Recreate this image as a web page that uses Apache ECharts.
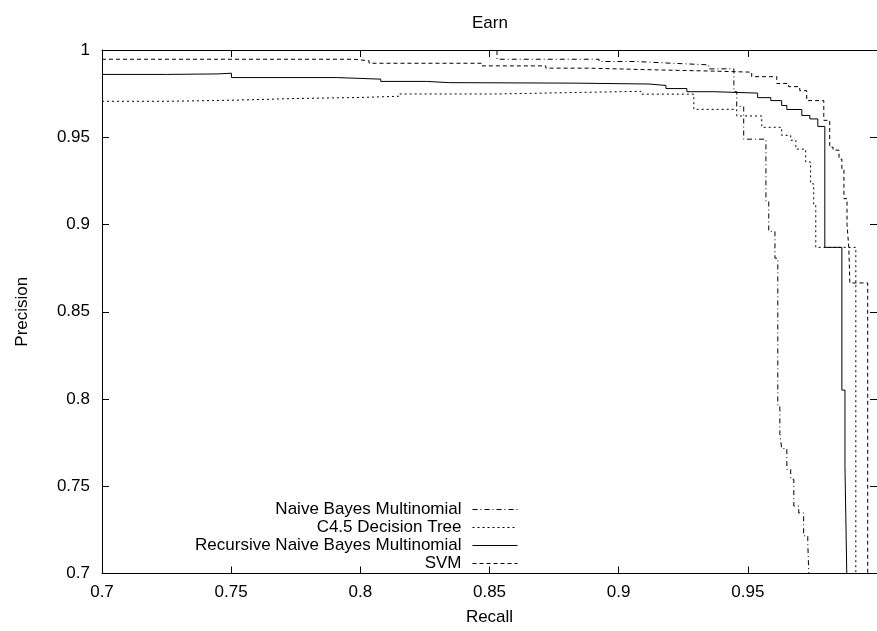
<!DOCTYPE html>
<html>
<head>
<meta charset="utf-8">
<title>Earn</title>
<script src="https://cdn.jsdelivr.net/npm/echarts@6/dist/echarts.min.js"></script>
<style>
  html, body { margin: 0; padding: 0; background: #fff; }
  #chart { width: 877px; height: 631px; }
</style>
</head>
<body>
<div id="chart"></div>
<script>
// Precision / recall curves for the "Earn" category, one [recall, precision] pair per threshold.
const seriesNames = [
  'Naive Bayes Multinomial',
  'C4.5 Decision Tree',
  'Recursive Naive Bayes Multinomial',
  'SVM'
];

const naiveBayes = [
  [0.8529, 1.0000], [0.8529, 0.9947], [0.8924, 0.9934], [0.9067, 0.9924],
  [0.9206, 0.9915], [0.9349, 0.9892], [0.9446, 0.9761], [0.9457, 0.9676],
  [0.9484, 0.9489], [0.9570, 0.9131], [0.9581, 0.8960], [0.9605, 0.8807],
  [0.9616, 0.7966], [0.9624, 0.7801], [0.9631, 0.7716], [0.9651, 0.7597],
  [0.9666, 0.7540], [0.9678, 0.7386], [0.9697, 0.7347], [0.9716, 0.7216],
  [0.9732, 0.7176], [0.9736, 0.7000]
];

const decisionTree = [
  [0.7000, 0.9706], [0.7250, 0.9712], [0.7500, 0.9722], [0.7750, 0.9728],
  [0.8000, 0.9735], [0.8150, 0.9748], [0.8530, 0.9758], [0.8885, 0.9763],
  [0.9086, 0.9747], [0.9291, 0.9660], [0.9457, 0.9622], [0.9554, 0.9557],
  [0.9631, 0.9511], [0.9666, 0.9483], [0.9686, 0.9432], [0.9724, 0.9358],
  [0.9743, 0.9233], [0.9755, 0.9108], [0.9763, 0.8869], [0.9918, 0.7000]
];

const recursiveBayes = [
  [0.7000, 0.9860], [0.7250, 0.9863], [0.7450, 0.9867], [0.7501, 0.9842],
  [0.7909, 0.9833], [0.8079, 0.9820], [0.8257, 0.9813], [0.8342, 0.9810],
  [0.8835, 0.9805], [0.9117, 0.9797], [0.9183, 0.9779], [0.9264, 0.9761],
  [0.9368, 0.9753], [0.9538, 0.9727], [0.9589, 0.9710], [0.9631, 0.9682],
  [0.9651, 0.9659], [0.9709, 0.9625], [0.9740, 0.9605], [0.9771, 0.9562],
  [0.9798, 0.8869], [0.9864, 0.8051], [0.9876, 0.7614], [0.9883, 0.7000]
];

const svm = [
  [0.7000, 0.9947], [0.7976, 0.9938], [0.8034, 0.9924], [0.8471, 0.9909],
  [0.8718, 0.9896], [0.8885, 0.9886], [0.9144, 0.9879], [0.9368, 0.9873],
  [0.9515, 0.9847], [0.9612, 0.9808], [0.9658, 0.9790], [0.9701, 0.9767],
  [0.9728, 0.9710], [0.9794, 0.9597], [0.9817, 0.9443], [0.9830, 0.9426],
  [0.9853, 0.9375], [0.9864, 0.9318], [0.9872, 0.9148], [0.9884, 0.9000],
  [0.9891, 0.8864], [0.9895, 0.8665], [0.9964, 0.7000]
];

const curves = [naiveBayes, decisionTree, recursiveBayes, svm];
const dashStyles = [[5, 3, 1, 3], [2, 3], 'solid', [4, 3]];

const axisMin = 0.7;
const axisMax = 1.0;
const tickStep = 0.05;

const FONT = 'Liberation Sans, Arial, Helvetica, sans-serif';
const INK = '#000';

const frameAxis = (extra) => Object.assign({
  type: 'value',
  min: axisMin,
  max: axisMax,
  interval: tickStep,
  splitLine: { show: false },
  axisLine: { show: true, onZero: false, lineStyle: { color: INK, width: 1 } },
  axisTick: { show: true, inside: true, length: 7, lineStyle: { color: INK, width: 1 } },
  axisLabel: { show: false }
}, extra);

const chart = echarts.init(document.getElementById('chart'), null, { renderer: 'canvas' });

chart.setOption({
  animation: false,
  backgroundColor: '#fff',
  textStyle: { fontFamily: FONT, color: INK },
  title: {
    text: 'Earn',
    left: 472,
    top: 15,
    padding: 0,
    textStyle: { fontFamily: FONT, fontSize: 17, fontWeight: 'normal', color: INK }
  },
  grid: { left: 102, top: 50, width: 776, height: 529, containLabel: false },
  legend: {
    data: seriesNames,
    orient: 'vertical',
    align: 'right',
    right: 359,
    top: 501,
    padding: 0,
    itemWidth: 45,
    itemHeight: 14,
    itemGap: 1,
    itemStyle: { opacity: 0 },
    lineStyle: { width: 1 },
    textStyle: { fontFamily: FONT, fontSize: 17, color: INK, padding: [0, 6, 0, 0] }
  },
  xAxis: [
    frameAxis({
      position: 'bottom',
      name: 'Recall',
      nameLocation: 'middle',
      nameGap: 44,
      nameTextStyle: { fontFamily: FONT, fontSize: 17, color: INK, verticalAlign: 'middle' },
      axisLabel: { show: true, fontFamily: FONT, fontSize: 17, color: INK, margin: 10, showMaxLabel: false }
    }),
    frameAxis({ position: 'top' })
  ],
  yAxis: [
    frameAxis({
      position: 'left',
      name: 'Precision',
      nameLocation: 'middle',
      nameGap: 80,
      nameRotate: 90,
      nameTextStyle: { fontFamily: FONT, fontSize: 17, color: INK, verticalAlign: 'middle' },
      axisLabel: { show: true, fontFamily: FONT, fontSize: 17, color: INK, margin: 12 }
    }),
    frameAxis({ position: 'right' })
  ],
  series: seriesNames.map((name, i) => ({
    name: name,
    type: 'line',
    xAxisIndex: 0,
    yAxisIndex: 0,
    step: 'end',
    symbol: 'none',
    clip: true,
    data: curves[i],
    lineStyle: { color: INK, width: 1, type: dashStyles[i] },
    itemStyle: { color: INK },
    emphasis: { disabled: true }
  }))
});
</script>
</body>
</html>
